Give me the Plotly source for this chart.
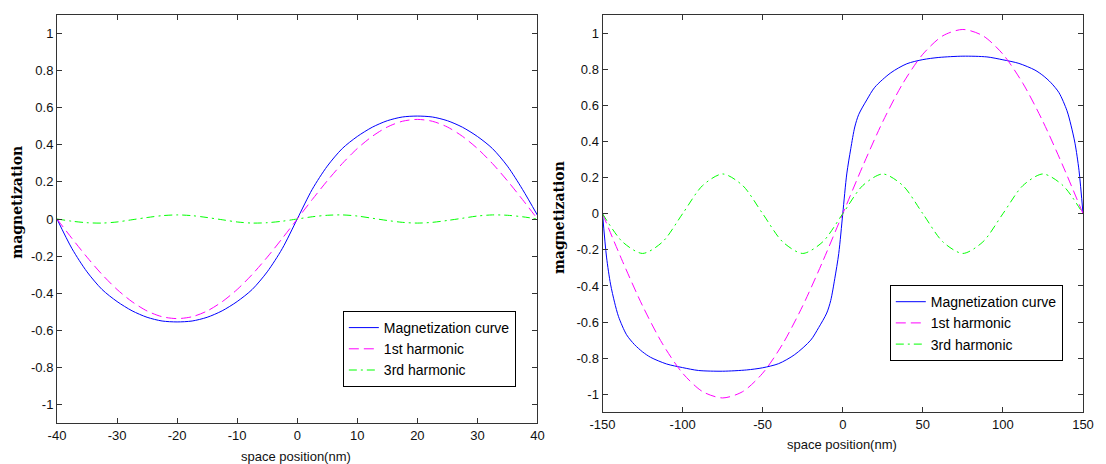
import plotly.graph_objects as go

# ---------------- data ----------------
left_x = [-40, -37.5, -35, -32.5, -30, -27.5, -25, -22.5, -20, -17.5, -15, -12.5, -10, -7.5, -5, -2.5,
          0, 2.5, 5, 7.5, 10, 12.5, 15, 17.5, 20, 22.5, 25, 27.5, 30, 32.5, 35, 37.5, 40]
left_mag = [0, -0.16, -0.285, -0.38, -0.445, -0.495, -0.53, -0.55, -0.555, -0.55, -0.53, -0.495, -0.445,
            -0.38, -0.285, -0.16, 0, 0.16, 0.285, 0.38, 0.445, 0.495, 0.53, 0.55, 0.555, 0.55, 0.53, 0.495,
            0.445, 0.38, 0.285, 0.16, 0.02]
left_h1 = [0, -0.105, -0.206, -0.299, -0.380, -0.446, -0.496, -0.527, -0.537, -0.527, -0.496, -0.446,
           -0.380, -0.299, -0.206, -0.105, 0, 0.105, 0.206, 0.299, 0.380, 0.446, 0.496, 0.527, 0.537,
           0.527, 0.496, 0.446, 0.380, 0.299, 0.206, 0.105, 0]
left_h3 = [0, -0.012, -0.020, -0.022, -0.016, -0.004, 0.008, 0.018, 0.022, 0.018, 0.008, -0.004, -0.016,
           -0.022, -0.020, -0.012, 0, 0.012, 0.020, 0.022, 0.016, 0.004, -0.008, -0.018, -0.022, -0.018,
           -0.008, 0.004, 0.016, 0.022, 0.020, 0.012, 0]

right_mx = [-150, -147.5, -145, -142.5, -140, -135, -130, -125, -120, -110, -100, -90, -75, -60, -50,
            -40, -30, -20, -15, -10, -7.5, -5, -2.5, 0, 2.5, 5, 7.5, 10, 15, 20, 30, 40, 50, 60, 75, 90,
            100, 110, 120, 125, 130, 135, 140, 142.5, 145, 147.5, 150]
right_mag = [0, -0.24, -0.39, -0.49, -0.57, -0.67, -0.725, -0.765, -0.795, -0.832, -0.852, -0.868, -0.872,
             -0.865, -0.853, -0.83, -0.78, -0.70, -0.63, -0.55, -0.48, -0.36, -0.22, 0, 0.22, 0.36, 0.48,
             0.55, 0.63, 0.70, 0.78, 0.83, 0.853, 0.865, 0.872, 0.868, 0.852, 0.832, 0.795, 0.765, 0.725,
             0.67, 0.57, 0.49, 0.39, 0.24, 0]
right_hx = [-150, -137.5, -125, -112.5, -100, -87.5, -75, -62.5, -50, -37.5, -25, -12.5, 0,
            12.5, 25, 37.5, 50, 62.5, 75, 87.5, 100, 112.5, 125, 137.5, 150]
right_h1 = [0, -0.264, -0.51, -0.721, -0.883, -0.985, -1.02, -0.985, -0.883, -0.721, -0.51, -0.264, 0,
            0.264, 0.51, 0.721, 0.883, 0.985, 1.02, 0.985, 0.883, 0.721, 0.51, 0.264, 0]
right_h3 = [0, -0.156, -0.22, -0.156, 0, 0.156, 0.22, 0.156, 0, -0.156, -0.22, -0.156, 0,
            0.156, 0.22, 0.156, 0, -0.156, -0.22, -0.156, 0, 0.156, 0.22, 0.156, 0]

series_names = ["Magnetization curve", "1st harmonic", "3rd harmonic"]

y_tickvals = [1, 0.8, 0.6, 0.4, 0.2, 0, -0.2, -0.4, -0.6, -0.8, -1]
y_ticktext = ["1", "0.8", "0.6", "0.4", "0.2", "0", "-0.2", "-0.4", "-0.6", "-0.8", "-1"]
lx_tickvals = [-40, -30, -20, -10, 0, 10, 20, 30, 40]
lx_ticktext = ["-40", "-30", "-20", "-10", "0", "10", "20", "30", "40"]
rx_tickvals = [-150, -100, -50, 0, 50, 100, 150]
rx_ticktext = ["-150", "-100", "-50", "0", "50", "100", "150"]

x_title = "space position(nm)"
y_title = "magnetization"

# ---------------- styles ----------------
BLUE, MAGENTA, GREEN = "#0000ff", "#ff00ff", "#00ff00"
DASH = "10px,5px"
DASHDOT = "8px,4px,2px,4px"
AXC = "#333333"
TICKFONT = dict(family="Arial, Liberation Sans, sans-serif", size=13, color="#111111")

fig = go.Figure()

def add_set(xm, ym, xh, y1, y3, xa, ya, leg):
    fig.add_trace(go.Scatter(x=xm, y=ym, mode="lines", name=series_names[0], xaxis=xa, yaxis=ya,
                             legend=leg, line=dict(color=BLUE, width=1, shape="spline", smoothing=0.8)))
    fig.add_trace(go.Scatter(x=xh, y=y1, mode="lines", name=series_names[1], xaxis=xa, yaxis=ya,
                             legend=leg, line=dict(color=MAGENTA, width=1, dash=DASH, shape="spline",
                                                   smoothing=0.8)))
    fig.add_trace(go.Scatter(x=xh, y=y3, mode="lines", name=series_names[2], xaxis=xa, yaxis=ya,
                             legend=leg, line=dict(color=GREEN, width=1, dash=DASHDOT, shape="spline",
                                                   smoothing=0.8)))

add_set(left_x, left_mag, left_x, left_h1, left_h3, "x", "y", "legend")
add_set(right_mx, right_mag, right_hx, right_h1, right_h3, "x2", "y2", "legend2")

axis_common = dict(showline=True, linecolor=AXC, linewidth=1, mirror="ticks", ticks="inside",
                   ticklen=5, tickcolor=AXC, tickwidth=1, showgrid=False, zeroline=False,
                   tickfont=TICKFONT, fixedrange=True)

legend_common = dict(bgcolor="white", bordercolor="#000000", borderwidth=1,
                     font=dict(family="Arial, Liberation Sans, sans-serif", size=14, color="#000000"),
                     xanchor="left", yanchor="top", tracegroupgap=0, itemwidth=30)

fig.update_layout(
    width=1106, height=464,
    margin=dict(l=57, r=19, t=15, b=41),
    paper_bgcolor="white", plot_bgcolor="white",
    showlegend=True,
    xaxis=dict(domain=[0, 0.4683], range=[-40, 40], anchor="y",
               tickvals=lx_tickvals, ticktext=lx_ticktext, **axis_common),
    yaxis=dict(domain=[0, 1], range=[-1.1, 1.1], anchor="x",
               tickvals=y_tickvals, ticktext=y_ticktext, **axis_common),
    xaxis2=dict(domain=[0.5317, 1], range=[-150, 150], anchor="y2",
                tickvals=rx_tickvals, ticktext=rx_ticktext, **axis_common),
    yaxis2=dict(domain=[0.026, 1], range=[-1.1, 1.1], anchor="x2",
                tickvals=y_tickvals, ticktext=y_ticktext, **axis_common),
    legend=dict(x=0.2786, y=0.2745, **legend_common),
    legend2=dict(x=0.8117, y=0.338, **legend_common),
)

title_font = dict(family="DejaVu Serif, serif", size=14, color="#000000")
xt_font = dict(family="Arial, Liberation Sans, sans-serif", size=13, color="#111111")
annots = [
    dict(text="<b>" + y_title + "</b>", x=-0.0393, y=0.5417, textangle=-90, font=title_font),
    dict(text="<b>" + y_title + "</b>", x=0.4893, y=0.5025, textangle=-90, font=title_font),
    dict(text=x_title, x=0.233, y=-0.0809, font=xt_font),
    dict(text=x_title, x=0.765, y=-0.0539, font=xt_font),
]
for a in annots:
    fig.add_annotation(xref="paper", yref="paper", showarrow=False, xanchor="center",
                       yanchor="middle", **a)

fig.write_html("out.html")
